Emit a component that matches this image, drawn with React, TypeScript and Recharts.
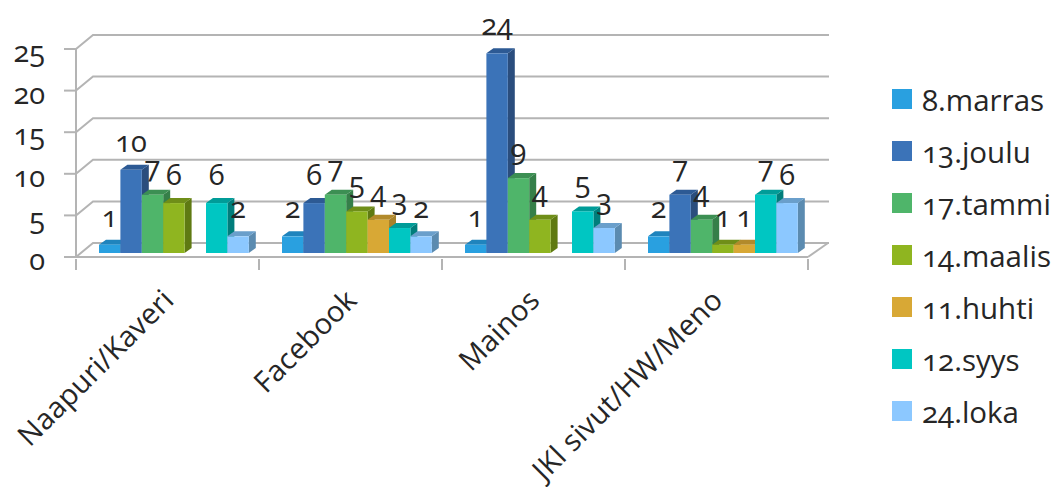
import React from 'react';
import { BarChart, Bar, XAxis, YAxis, CartesianGrid, Legend, LabelList } from 'recharts';

const categories = ['Naapuri/Kaveri', 'Facebook', 'Mainos', 'JKl sivut/HW/Meno'];
const yTicks = [0, 5, 10, 15, 20, 25];

const marras = [1, 2, 1, 2];
const joulu = [10, 6, 24, 7];
const tammi = [7, 7, 9, 4];
const maalis = [6, 5, 4, 1];
const huhti = [null, 4, null, 1];
const syys = [6, 3, 5, 7];
const loka = [2, 2, 3, 6];

const seriesList = [
  { name: '8.marras', values: marras, front: '#29a0e0', top: '#1f84bd', side: '#1c6f9f' },
  { name: '13.joulu', values: joulu, front: '#3b73b8', top: '#2d5a94', side: '#2a4d7d' },
  { name: '17.tammi', values: tammi, front: '#4fb56a', top: '#3c8f53', side: '#357f49' },
  { name: '14.maalis', values: maalis, front: '#8fb520', top: '#6f8e18', side: '#5f7a12' },
  { name: '11.huhti', values: huhti, front: '#d8a835', top: '#b28a2b', side: '#a8822a' },
  { name: '12.syys', values: syys, front: '#00c6c2', top: '#009c98', side: '#007d7b' },
  { name: '24.loka', values: loka, front: '#8cc8ff', top: '#6a9fcb', side: '#5b8bb0' },
];

const data = categories.map((category, i) => {
  const row: Record<string, string | number | null> = { category };
  seriesList.forEach((s) => {
    row[s.name] = s.values[i];
  });
  return row;
});

const FONT = '"Open Sans", sans-serif';
const NUMS: React.CSSProperties = { fontVariantNumeric: 'oldstyle-nums', fontFeatureSettings: '"onum"' };
const INK = '#262626';
const LINE = '#b4b4b4';
const BAND = 183;

// the 3d look: bars sit a bit back from the axis plane
const SHIFT_X = 6;
const SHIFT_Y = -4;
const DEPTH_X = 7;
const DEPTH_Y = 5;

function makeBarShape(front: string, top: string, side: string) {
  return function BarShape(props: any) {
    const { x, y, width, height, value } = props;
    const v = Array.isArray(value) ? value[1] : value;
    if (v == null || !height) return null;
    const l = x + SHIFT_X;
    const r = l + width;
    const t = y + SHIFT_Y;
    const b = t + height;
    return (
      <g>
        <polygon points={`${r},${t} ${r + DEPTH_X},${t - DEPTH_Y} ${r + DEPTH_X},${b - DEPTH_Y} ${r},${b}`} fill={side} />
        <polygon points={`${l},${t} ${l + DEPTH_X},${t - DEPTH_Y} ${r + DEPTH_X},${t - DEPTH_Y} ${r},${t}`} fill={top} />
        <rect x={l} y={t} width={width} height={height} fill={front} />
      </g>
    );
  };
}

function BarValue(props: any) {
  const { x, y, width, value } = props;
  if (value == null) return null;
  return (
    <text
      x={x + width / 2 + SHIFT_X}
      y={y + SHIFT_Y - 18}
      textAnchor="middle"
      fontFamily={FONT}
      fontSize={29}
      fill={INK}
      style={NUMS}
    >
      {value}
    </text>
  );
}

// grid lines run up the side wall and along the back wall
function WallLine(props: any) {
  const { x1, x2, y1, index } = props;
  const isFloor = y1 > 250;
  return (
    <g key={index}>
      <polyline points={`${x1},${y1} ${x1 + 17},${y1 - 14} ${x2 + 21},${y1 - 14}`} fill="none" stroke={LINE} strokeWidth={2} />
      {isFloor && <line x1={x2} y1={y1} x2={x2 + 20} y2={y1 - 14} stroke={LINE} strokeWidth={2} />}
    </g>
  );
}

function CategoryTick(props: any) {
  const { x, y, payload, index } = props;
  const last = index === categories.length - 1;
  return (
    <g>
      <line x1={x - BAND / 2} y1={y} x2={x - BAND / 2} y2={y + 11} stroke={LINE} strokeWidth={2} />
      {last && <line x1={x + BAND / 2} y1={y} x2={x + BAND / 2} y2={y + 11} stroke={LINE} strokeWidth={2} />}
      <text
        transform={`translate(${x + 8},${y + 43}) rotate(-45)`}
        textAnchor="end"
        fontFamily={FONT}
        fontSize={29}
        letterSpacing={0.2}
        fill={INK}
      >
        {payload.value}
      </text>
    </g>
  );
}

function LegendList({ payload }: any) {
  return (
    <div>
      {(payload || []).map((item: any) => (
        <div key={item.value} style={{ display: 'flex', alignItems: 'center', height: 52 }}>
          <span style={{ width: 20, height: 20, background: item.color, marginRight: 10, flex: 'none' }} />
          <span style={{ fontFamily: FONT, fontSize: 29.5, color: INK, whiteSpace: 'nowrap', ...NUMS }}>{item.value}</span>
        </div>
      ))}
    </div>
  );
}

export default function App() {
  return (
    <div style={{ position: 'absolute', left: 0, top: 0, width: 1052, height: 487, background: '#fff' }}>
      <BarChart
        width={1052}
        height={487}
        data={data}
        margin={{ top: 49, right: 244, bottom: 0, left: 0 }}
        barSize={21.4}
        barGap={0}
        barCategoryGap={16}
      >
        <CartesianGrid vertical={false} horizontal={WallLine} />
        <XAxis
          dataKey="category"
          height={230}
          interval={0}
          tick={CategoryTick}
          tickLine={false}
          tickSize={0}
          axisLine={{ stroke: LINE, strokeWidth: 2 }}
        />
        <YAxis
          width={76}
          domain={[0, 25]}
          ticks={yTicks}
          tickSize={12}
          tickMargin={19}
          tickLine={{ stroke: LINE, strokeWidth: 2 }}
          axisLine={{ stroke: LINE, strokeWidth: 2 }}
          tick={{ fontFamily: FONT, fontSize: 29, fill: INK, style: NUMS, dy: 3 }}
        />
        <Legend
          layout="vertical"
          align="center"
          verticalAlign="middle"
          content={LegendList}
          itemSorter={null}
          wrapperStyle={{ left: 892, top: 73, width: 160 }}
        />
        {seriesList.map((s) => (
          <Bar
            key={s.name}
            dataKey={s.name}
            fill={s.front}
            isAnimationActive={false}
            shape={makeBarShape(s.front, s.top, s.side)}
          >
            <LabelList dataKey={s.name} content={BarValue} />
          </Bar>
        ))}
      </BarChart>
    </div>
  );
}
